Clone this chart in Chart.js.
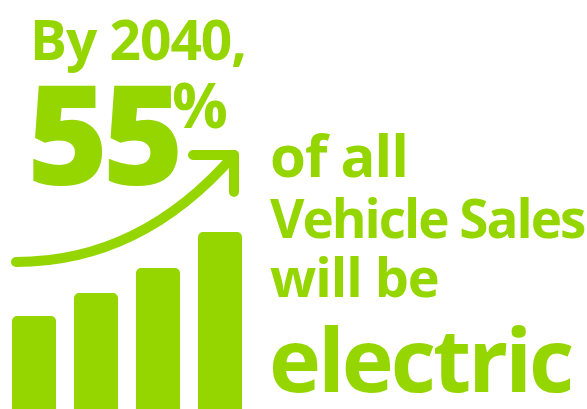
<!DOCTYPE html>
<html>
<head>
<meta charset="utf-8">
<script src="https://cdn.jsdelivr.net/npm/chart.js@4.4.0/dist/chart.umd.min.js"></script>
<style>
  html, body { margin: 0; padding: 0; background: #fff; }
  #wrap { position: relative; width: 587px; height: 409px; }
</style>
</head>
<body>
<div id="wrap"><canvas id="chart"></canvas></div>
<script>
// bar heights (relative units)
const steps = ['1', '2', '3', '4'];
const salesValues = [93, 116, 141, 177];
const yMax = 409;

const green = '#96d600';

// text lines: [text, x, baseline, size, letterSpacing, weight]
const textLines = [
    ['By 2040,', 30, 60, 55, -1, 700],
    ['55', 27, 185, 139, -6, 800],
    ['%', 172, 128, 62, -1, 700],
    ['of all', 270, 177, 58, -1, 700],
    ['Vehicle Sales', 270, 238, 53, -2, 700],
    ['will be', 270, 297, 54, -1, 700],
    ['electric', 269, 392, 88, -3, 700]
];

const decorPlugin = {
    id: 'decor',
    afterDatasetsDraw(chart) {
        const ctx = chart.ctx;
        const meta = chart.getDatasetMeta(0);
        const first = meta.data[0];
        const last = meta.data[meta.data.length - 1];
        ctx.save();
        // curved arrow above the bars
        const x0 = first.x - first.width / 2 + 4;
        const y0 = first.y - 54;
        const x1 = last.x + last.width / 2 - 8;
        const y1 = last.y - 77;
        ctx.strokeStyle = green;
        ctx.lineWidth = 10;
        ctx.lineCap = 'round';
        ctx.lineJoin = 'round';
        ctx.beginPath();
        ctx.moveTo(x0, y0);
        ctx.quadraticCurveTo(x0 + 125, y0, x1, y1);
        ctx.stroke();
        ctx.beginPath();
        ctx.moveTo(x1 - 41, y1);
        ctx.lineTo(x1, y1);
        ctx.lineTo(x1, y1 + 37);
        ctx.stroke();
        // headline text
        ctx.fillStyle = green;
        ctx.textBaseline = 'alphabetic';
        textLines.forEach(([t, x, y, size, ls, w]) => {
            ctx.font = w + ' ' + size + 'px "Open Sans"';
            ctx.letterSpacing = ls + 'px';
            ctx.fillText(t, x, y);
        });
        ctx.restore();
    }
};

new Chart(document.getElementById('chart'), {
    type: 'bar',
    data: {
        labels: steps,
        datasets: [{
            data: salesValues,
            backgroundColor: green,
            borderRadius: { topLeft: 5, topRight: 5 },
            borderSkipped: 'bottom',
            barPercentage: 0.71,
            categoryPercentage: 1
        }]
    },
    options: {
        responsive: true,
        maintainAspectRatio: false,
        animation: false,
        layout: { padding: { left: 3, right: 336, top: 0, bottom: 0 } },
        plugins: {
            legend: { display: false },
            tooltip: { enabled: false }
        },
        scales: {
            x: { display: false },
            y: { display: false, min: 0, max: yMax }
        }
    },
    plugins: [decorPlugin]
});
</script>
</body>
</html>
